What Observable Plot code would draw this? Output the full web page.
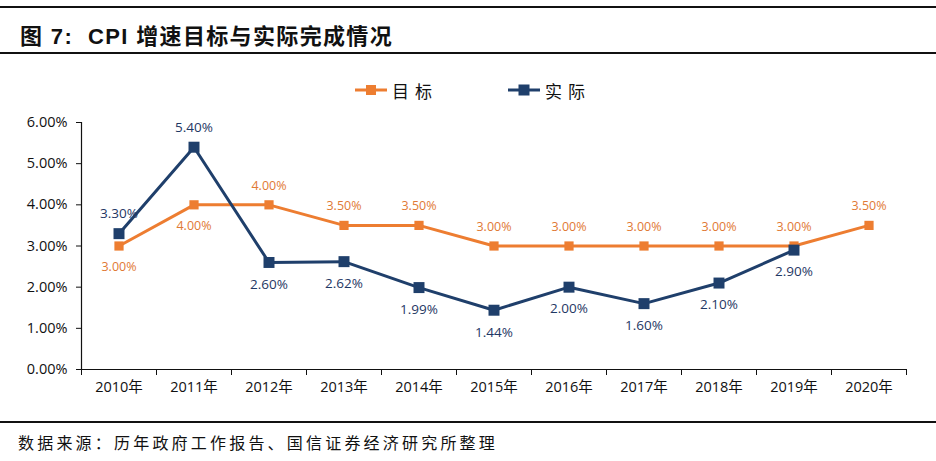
<!DOCTYPE html>
<html><head><meta charset="utf-8">
<script src="https://cdn.jsdelivr.net/npm/d3@7"></script>
<script src="https://cdn.jsdelivr.net/npm/@observablehq/plot@0.6"></script>
<style>
body{margin:0;background:#fff;width:936px;height:461px;overflow:hidden;position:relative;}
.rule{position:absolute;left:0;width:936px;height:2px;background:#111}
#title{position:absolute;left:20px;top:18px;font-weight:bold;font-size:22px;letter-spacing:1.35px;font-family:"Liberation Sans","Noto Sans CJK SC",sans-serif;color:#111;white-space:pre}
#legend{position:absolute;top:78px;left:355px;height:24px;display:flex;align-items:center;font-family:"Noto Sans CJK SC",sans-serif;font-size:17px;letter-spacing:6px;color:#111}
#legend .item{display:flex;align-items:center;}
#legend svg{margin-right:5px}
#chart{position:absolute;left:0;top:100px}
#source{position:absolute;left:18px;top:430px;font-family:"Noto Sans CJK SC",sans-serif;font-size:16px;letter-spacing:3.2px;color:#111;white-space:nowrap}
</style>
</head><body>
<div class="rule" style="top:6px"></div>
<div id="title">图 7:  CPI 增速目标与实际完成情况</div>
<div class="rule" style="top:52px"></div>
<div id="legend"></div>
<div id="chart"></div>
<div class="rule" style="top:421px;height:1.5px"></div>
<div id="source">数据来源：历年政府工作报告、国信证券经济研究所整理</div>
<script>
const years = [2010, 2011, 2012, 2013, 2014, 2015, 2016, 2017, 2018, 2019, 2020];
const target = [3.0, 4.0, 4.0, 3.5, 3.5, 3.0, 3.0, 3.0, 3.0, 3.0, 3.5];
const actual = [3.3, 5.4, 2.6, 2.62, 1.99, 1.44, 2.0, 1.6, 2.1, 2.9, null];
const yTicks = [0, 1, 2, 3, 4, 5, 6];
const seriesNames = ["目标", "实际"];
const seriesColors = ["#ED7D31", "#1F3F6B"];
const labelColors = ["#DF7A35", "#1F3864"];

const numFont = "'Open Sans', 'Noto Sans CJK SC', sans-serif";
const fmt = v => v.toFixed(2) + "%";

const tRows = years.map((y, i) => ({year: y, v: target[i], above: actual[i] == null || target[i] >= actual[i]}));
const aRows = years.map((y, i) => ({year: y, v: actual[i], above: actual[i] != null && actual[i] > target[i]})).filter(d => d.v != null);
const bounds = [...years.map(y => y - 0.5), years[years.length - 1] + 0.5];

// legend
const legend = document.getElementById("legend");
seriesNames.forEach((name, i) => {
  const item = document.createElement("div");
  item.className = "item";
  if (i > 0) item.style.marginLeft = "70px";
  const s = i === 0 ? 10 : 11;
  item.innerHTML = `<svg width="32" height="14"><line x1="0" x2="32" y1="7" y2="7" stroke="${seriesColors[i]}" stroke-width="3"/><rect x="${16 - s/2}" y="${7 - s/2}" width="${s}" height="${s}" fill="${seriesColors[i]}"/></svg><span>${name}</span>`;
  legend.appendChild(item);
});

const chart = Plot.plot({
  width: 936,
  height: 310,
  marginLeft: 81,
  marginRight: 30,
  marginTop: 22,
  marginBottom: 41,
  style: {fontFamily: numFont, background: "transparent", color: "#111"},
  x: {type: "linear", domain: [bounds[0], bounds[bounds.length - 1]], label: null},
  y: {domain: [0, 6], label: null},
  marks: [
    Plot.axisY({ticks: yTicks, tickSize: 5, tickPadding: 9, tickFormat: fmt, fontSize: 14.5, stroke: "#111", fill: "#111", label: null}),
    Plot.axisX({ticks: bounds, tickSize: 6, tickFormat: () => "", stroke: "#111", label: null}),
    Plot.axisX({ticks: years, tickSize: 0, tickPadding: 12, tickFormat: d => d + "年", fontSize: 14.5, fill: "#111", label: null}),
    Plot.ruleY([0], {stroke: "#111", strokeWidth: 1.2}),
    Plot.ruleX([bounds[0]], {stroke: "#111", strokeWidth: 1.2}),
    Plot.line(tRows, {x: "year", y: "v", stroke: seriesColors[0], strokeWidth: 3}),
    Plot.dot(tRows, {x: "year", y: "v", symbol: "square", r: 5.2, fill: seriesColors[0], stroke: "none"}),
    Plot.line(aRows, {x: "year", y: "v", stroke: seriesColors[1], strokeWidth: 3}),
    Plot.dot(aRows, {x: "year", y: "v", symbol: "square", r: 6.2, fill: seriesColors[1], stroke: "none"}),
    Plot.text(tRows.filter(d => d.above), {x: "year", y: "v", text: d => fmt(d.v), dy: -19, fill: labelColors[0], fontSize: 12.5}),
    Plot.text(tRows.filter(d => !d.above), {x: "year", y: "v", text: d => fmt(d.v), dy: 21, fill: labelColors[0], fontSize: 12.5}),
    Plot.text(aRows.filter(d => d.above), {x: "year", y: "v", text: d => fmt(d.v), dy: -20, fill: labelColors[1], fontSize: 13.5}),
    Plot.text(aRows.filter(d => !d.above), {x: "year", y: "v", text: d => fmt(d.v), dy: 22, fill: labelColors[1], fontSize: 13.5})
  ]
});
document.getElementById("chart").appendChild(chart);
</script>
</body></html>
